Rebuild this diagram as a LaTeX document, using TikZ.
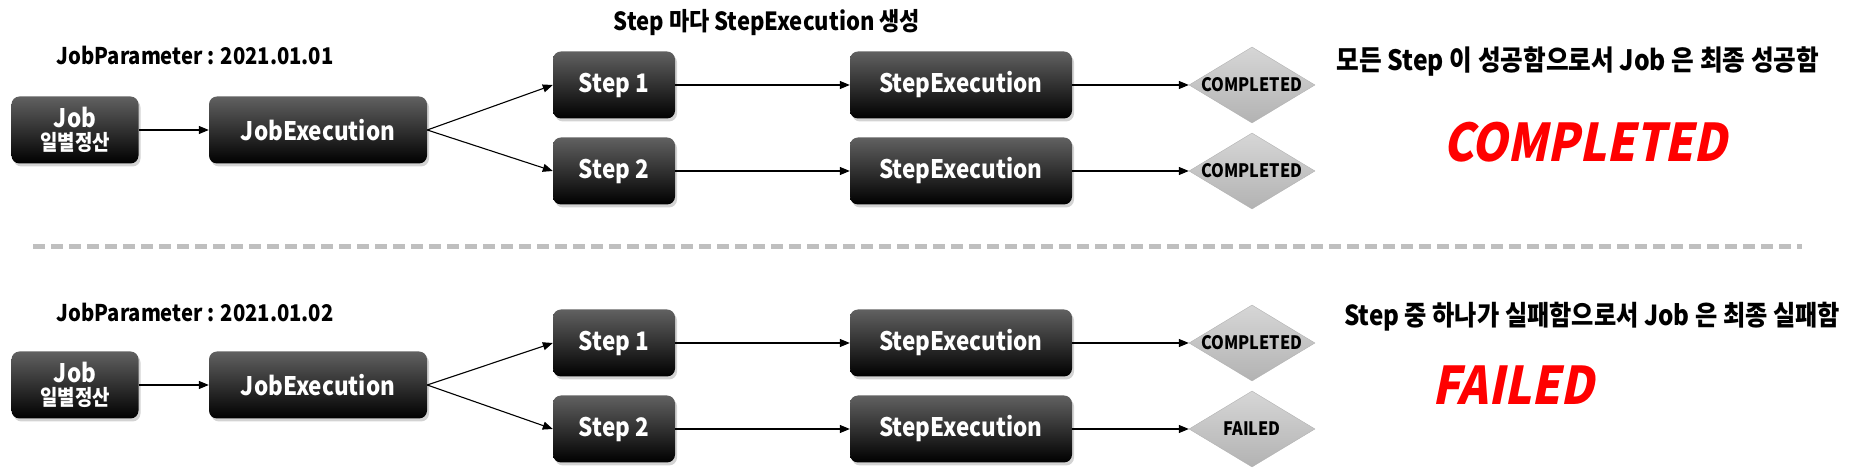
\documentclass[tikz,border=0pt]{standalone}
\usepackage{fontspec}
\setmainfont{Noto Sans CJK KR}[FakeStretch=0.88]
\usetikzlibrary{arrows.meta,positioning,shapes.geometric,shadows}

\begin{document}
\begin{tikzpicture}[
  x=1pt,y=1pt,
  every node/.style={font=\bfseries\fontsize{25.5}{28}\selectfont},
  jobbox/.style={rounded corners=8pt,top color=black!62,middle color=black,bottom color=black,text=white,align=center,minimum height=67pt,inner sep=2pt,drop shadow={shadow xshift=2pt,shadow yshift=-3pt,opacity=0.35}},
  status/.style={diamond,aspect=1.66,minimum width=126pt,minimum height=76pt,inner sep=0pt,draw=black!30,top color=black!16,bottom color=black!30,font=\bfseries\fontsize{18.5}{20}\selectfont},
  arrow/.style={-{Triangle[length=10pt,width=8pt]},line width=1.1pt},
  caption/.style={font=\bfseries\fontsize{23}{26}\selectfont},
  remark/.style={font=\bfseries\fontsize{28}{31}\selectfont},
  result/.style={text=red,font=\bfseries\fontsize{52}{58}\selectfont\addfontfeatures{FakeSlant=0.2}},
  divider/.style={draw=black!25,line width=5pt,dash pattern=on 12pt off 6pt}
]
  \useasboundingbox (0,0) rectangle (1858,476);

  \node[caption,font=\bfseries\fontsize{25}{28}\selectfont] (title) at (767,453) {Step 마다 StepExecution 생성};

  % first run
  \node[caption,anchor=west] (param1) at (53,421) {JobParameter : 2021.01.01};
  \node[jobbox,minimum width=127pt] (job1) at (75,346) {Job\\[-5pt]{\fontsize{21.5}{23}\selectfont 일별정산}};
  \node[jobbox,minimum width=218pt] (jexec1) at (318,346) {JobExecution};
  \node[jobbox,minimum width=122pt] (step11) at (614,391) {Step 1};
  \node[jobbox,minimum width=122pt] (step12) at (614,305) {Step 2};
  \node[jobbox,minimum width=222pt] (sexec11) at (961,391) {StepExecution};
  \node[jobbox,minimum width=222pt] (sexec12) at (961,305) {StepExecution};
  \node[status] (st11) at (1252,391) {COMPLETED};
  \node[status] (st12) at (1252,305) {COMPLETED};
  \node[remark] (msg1) at (1578,414) {모든 Step 이 성공함으로서 Job 은 최종 성공함};
  \node[result] (res1) at (1585,334) {COMPLETED};

  \draw[arrow] (job1) -- (jexec1);
  \draw[arrow] (jexec1.east) -- (step11.west);
  \draw[arrow] (jexec1.east) -- (step12.west);
  \draw[arrow] (step11) -- (sexec11);
  \draw[arrow] (step12) -- (sexec12);
  \draw[arrow] (sexec11) -- (st11);
  \draw[arrow] (sexec12) -- (st12);

  \draw[divider] (33,229) -- (1802,229);

  % second run
  \node[caption,anchor=west] (param2) at (53,164) {JobParameter : 2021.01.02};
  \node[jobbox,minimum width=127pt] (job2) at (75,91) {Job\\[-5pt]{\fontsize{21.5}{23}\selectfont 일별정산}};
  \node[jobbox,minimum width=218pt] (jexec2) at (318,91) {JobExecution};
  \node[jobbox,minimum width=122pt] (step21) at (614,133) {Step 1};
  \node[jobbox,minimum width=122pt] (step22) at (614,47) {Step 2};
  \node[jobbox,minimum width=222pt] (sexec21) at (961,133) {StepExecution};
  \node[jobbox,minimum width=222pt] (sexec22) at (961,47) {StepExecution};
  \node[status] (st21) at (1252,133) {COMPLETED};
  \node[status] (st22) at (1252,47) {FAILED};
  \node[remark,font=\bfseries\fontsize{27.5}{30}\selectfont] (msg2) at (1592,159) {Step 중 하나가 실패함으로서 Job 은 최종 실패함};
  \node[result] (res2) at (1513,91) {FAILED};

  \draw[arrow] (job2) -- (jexec2);
  \draw[arrow] (jexec2.east) -- (step21.west);
  \draw[arrow] (jexec2.east) -- (step22.west);
  \draw[arrow] (step21) -- (sexec21);
  \draw[arrow] (step22) -- (sexec22);
  \draw[arrow] (sexec21) -- (st21);
  \draw[arrow] (sexec22) -- (st22);
\end{tikzpicture}
\end{document}
